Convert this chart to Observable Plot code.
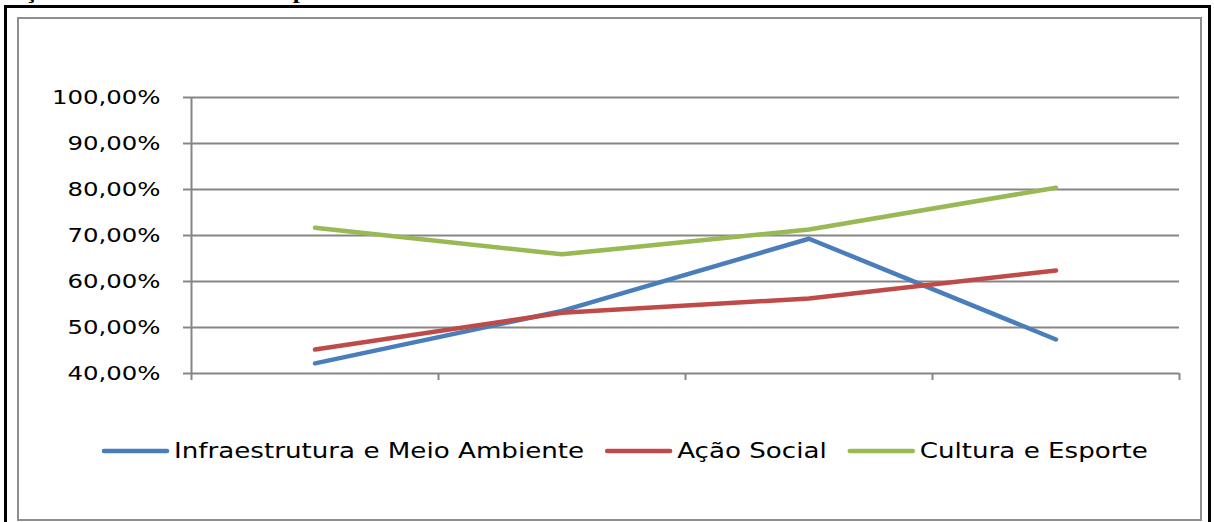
<!DOCTYPE html>
<html>
<head>
<meta charset="utf-8">
<script src="https://cdn.jsdelivr.net/npm/d3@7"></script>
<script src="https://cdn.jsdelivr.net/npm/@observablehq/plot@0.6"></script>
<style>
  html, body { margin: 0; padding: 0; background: #fff; }
  body { position: relative; width: 1214px; height: 522px; overflow: hidden; font-family: "DejaVu Sans", sans-serif; }
  #heading { position: absolute; left: 7px; top: -17px; font: bold 19px "Liberation Serif", serif; line-height: 19px; white-space: nowrap; transform-origin: 0 0; transform: scaleX(1.33); color: #000; }
  #frame { position: absolute; left: 4px; top: 5px; width: 1207px; height: 600px; border: 3px solid #000; box-sizing: border-box; }
  #box { position: absolute; left: 17px; top: 17px; width: 1185px; height: 504px; border: 2px solid #8e8e8e; box-sizing: border-box; }
  #chart, #legend { position: absolute; left: 0; top: 0; }
</style>
</head>
<body>
<div id="heading">Ação Social e Cultura e Esporte de 2009 a 2012</div>
<div id="frame"></div>
<div id="box"></div>
<div id="chart"></div>
<div id="legend"></div>
<script>
// Periods (not labelled on the axis)
const categories = ["2009", "2010", "2011", "2012"];
const seriesNames = ["Infraestrutura e Meio Ambiente", "Ação Social", "Cultura e Esporte"];
const infraestrutura = [0.422, 0.536, 0.693, 0.474];
const acaoSocial = [0.452, 0.532, 0.563, 0.624];
const culturaEsporte = [0.717, 0.659, 0.713, 0.804];
const seriesColors = ["#4a7ebb", "#be4b48", "#98b954"];
const yTicks = [0.4, 0.5, 0.6, 0.7, 0.8, 0.9, 1.0];

const seriesValues = [infraestrutura, acaoSocial, culturaEsporte];
const rows = seriesNames.flatMap((name, s) =>
  categories.map((c, i) => ({series: name, period: c, pos: i + 0.5, value: seriesValues[s][i]}))
);
const boundaries = d3.range(categories.length + 1);
const fmt = d => (d * 100).toFixed(2).replace(".", ",") + "%";
const grey = "#868686";

// stretch glyphs horizontally while keeping their anchor
function stretch(textNode, k) {
  const w = textNode.getComputedTextLength();
  textNode.setAttribute("textLength", (w * k).toFixed(1));
  textNode.setAttribute("lengthAdjust", "spacingAndGlyphs");
  return w * k;
}

const chart = Plot.plot({
  width: 1214,
  height: 400,
  marginLeft: 191,
  marginRight: 35,
  marginTop: 97,
  marginBottom: 27,
  style: {fontFamily: "DejaVu Sans, sans-serif", fontSize: "20px", background: "transparent", overflow: "visible"},
  x: {domain: [0, categories.length], axis: null},
  y: {domain: [0.4, 1.0], axis: null},
  color: {domain: seriesNames, range: seriesColors},
  marks: [
    Plot.gridY(yTicks, {stroke: grey, strokeOpacity: 1, strokeWidth: 2}),
    Plot.axisY(yTicks, {anchor: "left", tickSize: 8, tickPadding: 23, tickFormat: fmt, stroke: grey, strokeWidth: 2, fill: "#000", label: null, fontSize: 20}),
    Plot.axisX(boundaries, {anchor: "bottom", tickSize: 7, tickFormat: () => "", stroke: grey, strokeWidth: 2, label: null}),
    Plot.ruleX([0], {y1: 0.4, y2: 1.0, stroke: grey, strokeWidth: 2}),
    Plot.line(rows, {x: "pos", y: "value", z: "series", stroke: "series", strokeWidth: 4.5, strokeLinecap: "round", strokeLinejoin: "round"})
  ]
});
document.getElementById("chart").appendChild(chart);
chart.querySelectorAll("g[aria-label='y-axis tick label'] text").forEach(t => stretch(t, 1.22));

// Legend: line swatch followed by the series name
const legendSvg = d3.select("#legend").append("svg")
  .attr("width", 1214).attr("height", 522)
  .style("font-family", "DejaVu Sans, sans-serif").style("font-size", "20.5px");
let x = 102;
seriesNames.forEach((name, i) => {
  legendSvg.append("line")
    .attr("x1", x + 2).attr("x2", x + 65).attr("y1", 451).attr("y2", 451)
    .attr("stroke", seriesColors[i]).attr("stroke-width", 4.5).attr("stroke-linecap", "round");
  const t = legendSvg.append("text").attr("x", x + 72).attr("y", 458).attr("fill", "#000").text(name);
  const w = stretch(t.node(), 1.275);
  x += 72 + w + 21;
});
</script>
</body>
</html>
